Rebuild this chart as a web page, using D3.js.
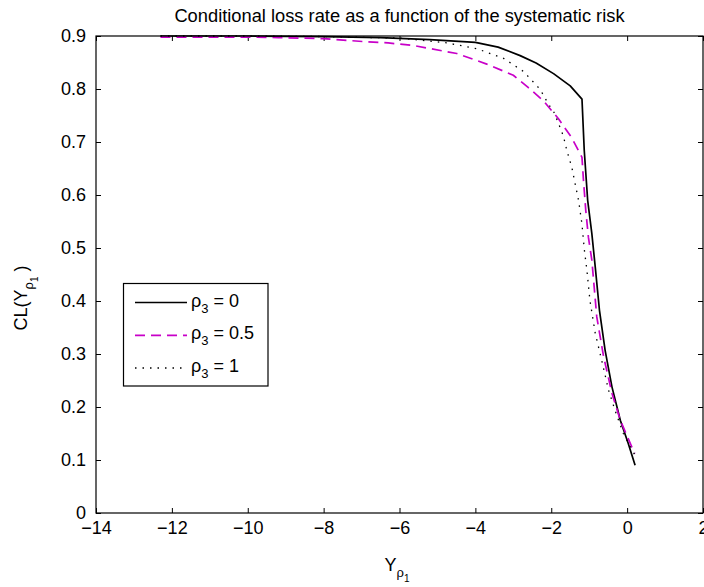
<!DOCTYPE html>
<html>
<head>
<meta charset="utf-8">
<script src="https://cdn.jsdelivr.net/npm/d3@7"></script>
<style>
    body { margin: 0; background: #fff; }
    svg { display: block; font-family: "Liberation Sans", Arial, sans-serif; }
    .axis text { font-size: 18px; fill: #000; }
    .axis line { stroke: #000; }
    .axis path { display: none; }
</style>
</head>
<body>
<div id="chart"></div>
<script>
// series: conditional loss rate vs systematic risk Y_rho1
const xRho0  = [-12.3, -10, -8, -6.5, -5.2, -4.0, -3.4, -2.82, -2.4, -1.94, -1.5, -1.19, -1.13, -1.04, -0.93, -0.84, -0.73, -0.58, -0.40, -0.18, 0.03, 0.21];
const yRho0  = [0.9, 0.9, 0.899, 0.897, 0.893, 0.888, 0.879, 0.863, 0.849, 0.829, 0.806, 0.781, 0.684, 0.590, 0.527, 0.464, 0.383, 0.307, 0.238, 0.175, 0.131, 0.090];

const xRho05 = [-12.3, -10, -9.2, -8.0, -6.86, -6.3, -5.63, -4.49, -3.70, -3.0, -2.61, -2.21, -1.81, -1.46, -1.19, -1.15, -1.09, -1.02, -0.93, -0.80, -0.62, -0.40, -0.18, 0.20];
const yRho05 = [0.898, 0.898, 0.897, 0.895, 0.889, 0.887, 0.882, 0.867, 0.847, 0.826, 0.803, 0.778, 0.744, 0.708, 0.671, 0.627, 0.571, 0.520, 0.477, 0.370, 0.295, 0.226, 0.175, 0.112];

const xRho1  = [-12.3, -10, -8, -6, -4.75, -3.96, -3.26, -2.73, -2.29, -2.07, -1.94, -1.77, -1.68, -1.59, -1.46, -1.37, -1.28, -1.19, -1.13, -1.06, -0.98, -0.84, -0.67, -0.49, -0.32, -0.10, 0.20];
const yRho1  = [0.9, 0.9, 0.899, 0.896, 0.887, 0.876, 0.858, 0.833, 0.799, 0.771, 0.758, 0.728, 0.711, 0.684, 0.653, 0.621, 0.590, 0.545, 0.498, 0.458, 0.401, 0.339, 0.288, 0.232, 0.194, 0.150, 0.110];

const legendLabels = ["0", "0.5", "1"];
const xTicks = [-14, -12, -10, -8, -6, -4, -2, 0, 2];
const yTicks = [0, 0.1, 0.2, 0.3, 0.4, 0.5, 0.6, 0.7, 0.8, 0.9];

const margin = {top: 36, right: 1, bottom: 74, left: 96};
const width = 704 - margin.left - margin.right;
const height = 587 - margin.top - margin.bottom;

const svg = d3.select("#chart").append("svg")
    .attr("width", 704)
    .attr("height", 587);

const g = svg.append("g").attr("transform", "translate(" + margin.left + "," + margin.top + ")");

const xScale = d3.scaleLinear().domain([-14, 2]).range([0, width]);
const yScale = d3.scaleLinear().domain([0, 0.9]).range([height, 0]);

const fmtX = function(d) { return d < 0 ? "\u2212" + Math.abs(d) : String(d); };
const fmtY = function(d) { return d === 0 ? "0" : d3.format(".1f")(d); };

// axes, ticks pointing inward (matlab style)
g.append("g").attr("class", "axis")
    .attr("transform", "translate(0," + height + ")")
    .call(d3.axisBottom(xScale).tickValues(xTicks).tickFormat(fmtX).tickSizeInner(-5).tickSizeOuter(0).tickPadding(8));
g.append("g").attr("class", "axis")
    .call(d3.axisTop(xScale).tickValues(xTicks).tickFormat("").tickSizeInner(-5).tickSizeOuter(0));
g.append("g").attr("class", "axis")
    .call(d3.axisLeft(yScale).tickValues(yTicks).tickFormat(fmtY).tickSizeInner(-5).tickSizeOuter(0).tickPadding(10));
g.append("g").attr("class", "axis")
    .attr("transform", "translate(" + width + ",0)")
    .call(d3.axisRight(yScale).tickValues(yTicks).tickFormat("").tickSizeInner(-5).tickSizeOuter(0));

const line = d3.line()
    .x(function(d) { return xScale(d[0]); })
    .y(function(d) { return yScale(d[1]); });

const series = [
    {xs: xRho0,  ys: yRho0,  color: "#000",    width: 1.7, dash: null},
    {xs: xRho05, ys: yRho05, color: "#c800c8", width: 1.7, dash: "10,6"},
    {xs: xRho1,  ys: yRho1,  color: "#000",    width: 1.3, dash: "1.5,6"}
];

series.forEach(function(s) {
    g.append("path")
        .datum(d3.zip(s.xs, s.ys))
        .attr("fill", "none")
        .attr("stroke", s.color)
        .attr("stroke-width", s.width)
        .attr("stroke-linejoin", "round")
        .attr("stroke-dasharray", s.dash)
        .attr("d", line);
});

// frame
g.append("rect")
    .attr("width", width).attr("height", height)
    .attr("fill", "none").attr("stroke", "#000").attr("stroke-width", 1.2);

// title
svg.append("text")
    .attr("x", margin.left + width / 2).attr("y", 22)
    .attr("text-anchor", "middle")
    .style("font-size", "18.3px")
    .text("Conditional loss rate as a function of the systematic risk");

// x label  Y_{rho_1}
let xl = svg.append("text")
    .attr("x", 397).attr("y", 571)
    .attr("text-anchor", "middle")
    .style("font-size", "18px");
xl.append("tspan").text("Y");
xl.append("tspan").attr("dy", 6).style("font-size", "13px").text("\u03c1");
xl.append("tspan").attr("dy", 5).style("font-size", "10px").text("1");

// y label  CL(Y_{rho_1})
let yl = svg.append("text")
    .attr("transform", "translate(27,298) rotate(-90)")
    .attr("text-anchor", "middle")
    .style("font-size", "18px");
yl.append("tspan").text("CL(Y");
yl.append("tspan").attr("dy", 6).style("font-size", "13px").text("\u03c1");
yl.append("tspan").attr("dy", 5).style("font-size", "10px").text("1");
yl.append("tspan").attr("dy", -11).attr("dx", 5).text(")");

// legend
const legend = svg.append("g").attr("class", "legend");
legend.append("rect")
    .attr("x", 123.5).attr("y", 283.5).attr("width", 144.5).attr("height", 102.5)
    .attr("fill", "#fff").attr("stroke", "#000").attr("stroke-width", 1.2);

const rowY = [302.5, 335.3, 368];
series.forEach(function(s, i) {
    let item = legend.append("g").attr("transform", "translate(0," + rowY[i] + ")");
    item.append("line")
        .attr("x1", 135).attr("x2", 187).attr("y1", 0).attr("y2", 0)
        .attr("stroke", s.color).attr("stroke-width", s.width)
        .attr("stroke-dasharray", s.dash);
    let t = item.append("text").attr("x", 191).attr("y", 4).style("font-size", "18px");
    t.append("tspan").text("\u03c1");
    t.append("tspan").attr("dy", 6).style("font-size", "13px").text("3");
    t.append("tspan").attr("dy", -6).text(" = " + legendLabels[i]);
});
</script>
</body>
</html>
